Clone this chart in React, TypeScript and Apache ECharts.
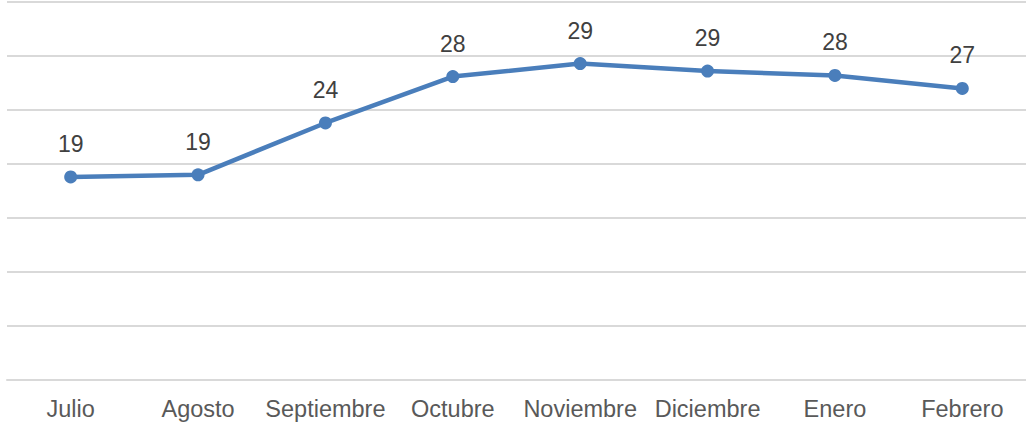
import React, { useEffect, useRef } from "react";
import * as echarts from "echarts";

const categories = ["Julio", "Agosto", "Septiembre", "Octubre", "Noviembre", "Diciembre", "Enero", "Febrero"];
const values = [18.8, 19.0, 23.8, 28.1, 29.3, 28.6, 28.2, 27.0];

const yMin = 0;
const yMax = 35;
const yInterval = 5;

export default function App() {
  const ref = useRef<HTMLDivElement>(null);
  useEffect(() => {
    if (!ref.current) return;
    const chart = echarts.init(ref.current, null, { renderer: "svg" });
    chart.setOption({
      animation: false,
      backgroundColor: "#ffffff",
      grid: { left: 7, top: 2, width: 1023, height: 378, containLabel: false },
      xAxis: {
        type: "category",
        data: categories,
        boundaryGap: true,
        axisLine: { show: true, lineStyle: { color: "#d9d9d9", width: 2 } },
        axisTick: { show: false },
        axisLabel: {
          color: "#595959",
          fontSize: 23.5,
          fontFamily: "Liberation Sans, Arial, sans-serif",
          margin: 17,
          interval: 0,
        },
      },
      yAxis: {
        type: "value",
        min: yMin,
        max: yMax,
        interval: yInterval,
        axisLabel: { show: false },
        axisLine: { show: false },
        axisTick: { show: false },
        splitLine: { show: true, lineStyle: { color: "#d9d9d9", width: 2 } },
      },
      series: [
        {
          type: "line",
          data: values,
          symbol: "circle",
          symbolSize: 13,
          itemStyle: { color: "#4a7ebb" },
          lineStyle: { color: "#4a7ebb", width: 4.5 },
          label: {
            show: true,
            position: "top",
            distance: 15,
            color: "#404040",
            fontSize: 23,
            fontFamily: "Liberation Sans, Arial, sans-serif",
            formatter: (p: any) => String(Math.round(p.value)),
          },
        },
      ],
    });
    return () => chart.dispose();
  }, []);
  return (
    <div
      ref={ref}
      style={{ position: "fixed", left: 0, top: 0, width: 1026, height: 430, background: "#fff" }}
    />
  );
}
